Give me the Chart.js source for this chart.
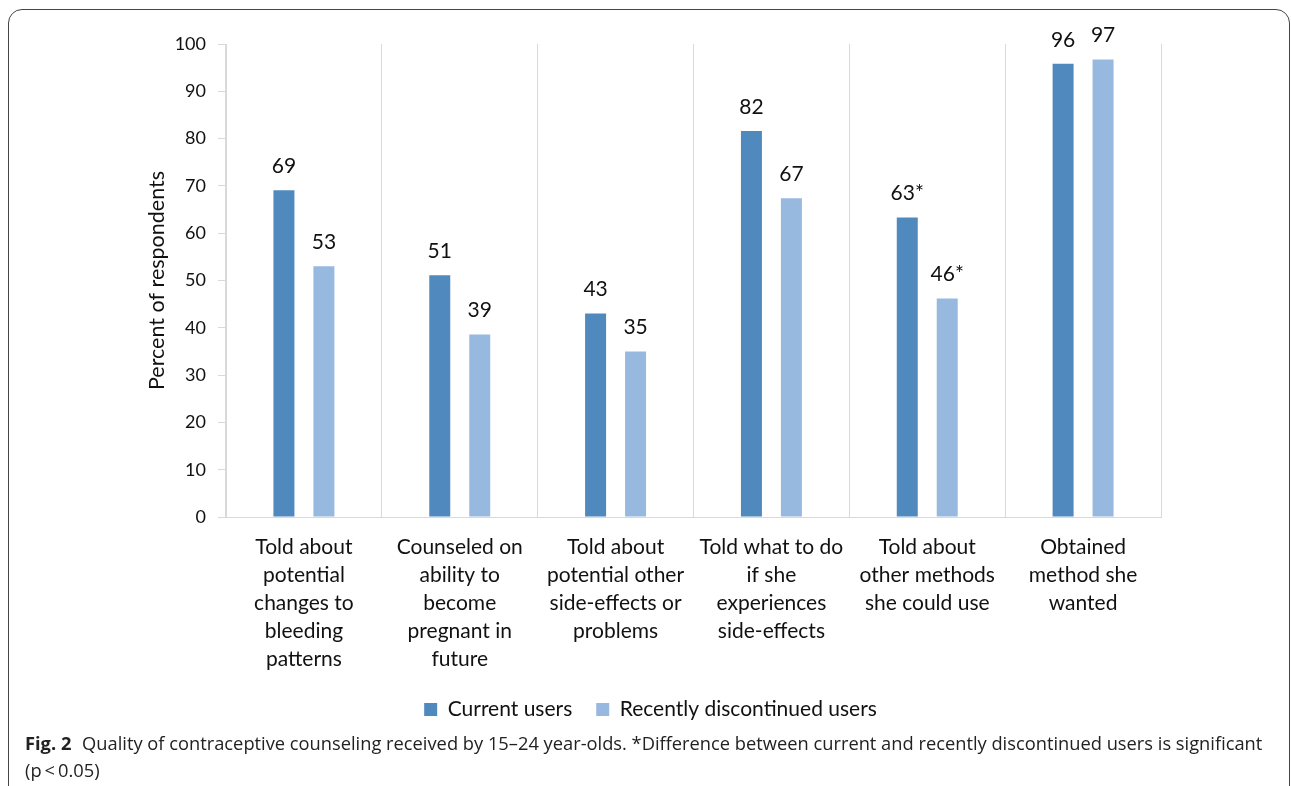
<!DOCTYPE html>
<html>
<head>
<meta charset="utf-8">
<script src="https://cdn.jsdelivr.net/npm/chart.js@4"></script>
<style>
    body { margin: 0; background: #fff; }
    #frame {
        position: absolute; left: 8px; top: 9px; width: 1282px; height: 820px;
        border: 1.5px solid #444; border-radius: 14px; box-sizing: border-box;
    }
    #chart { position: absolute; left: 0; top: 0; }
    #caption {
        position: absolute; left: 25px; top: 729px;
        font-family: "Open Sans", sans-serif; font-size: 18.3px; line-height: 27px;
        color: #222; white-space: nowrap;
    }
    #caption b { font-weight: 700; margin-right: 6px; }
</style>
</head>
<body>
<div id="frame"></div>
<canvas id="chart" width="1291" height="730"></canvas>
<div id="caption"><b>Fig. 2</b> Quality of contraceptive counseling received by 15–24 year-olds. *Difference between current and recently discontinued users is significant<br>(p&thinsp;&lt;&thinsp;0.05)</div>

<script>
// Data
const categories = [
    ['Told about', 'potential', 'changes to', 'bleeding', 'patterns'],
    ['Counseled on', 'ability to', 'become', 'pregnant in', 'future'],
    ['Told about', 'potential other', 'side-effects or', 'problems'],
    ['Told what to do', 'if she', 'experiences', 'side-effects'],
    ['Told about', 'other methods', 'she could use'],
    ['Obtained', 'method she', 'wanted']
];
const currentUsers = [69.1, 51.1, 43, 81.6, 63.3, 95.8];
const discontinuedUsers = [53, 38.6, 35, 67.4, 46.2, 96.7];
const currentLabels = ['69', '51', '43', '82', '63*', '96'];
const discontinuedLabels = ['53', '39', '35', '67', '46*', '97'];

// value labels above bars
const barLabels = {
    id: 'barLabels',
    afterDatasetsDraw(chart) {
        const ctx = chart.ctx;
        ctx.save();
        ctx.font = '21px Lato';
        ctx.fillStyle = '#111';
        ctx.textAlign = 'center';
        ctx.textBaseline = 'middle';
        chart.data.datasets.forEach(function(ds, i) {
            chart.getDatasetMeta(i).data.forEach(function(bar, j) {
                ctx.fillText(ds.valueLabels[j], bar.x, bar.y - 24);
            });
        });
        ctx.restore();
    }
};

const ctx = document.getElementById('chart').getContext('2d');
new Chart(ctx, {
    type: 'bar',
    data: {
        labels: categories,
        datasets: [{
            label: 'Current users',
            data: currentUsers,
            valueLabels: currentLabels,
            backgroundColor: '#4f89bd'
        }, {
            label: 'Recently discontinued users',
            data: discontinuedUsers,
            valueLabels: discontinuedLabels,
            backgroundColor: '#97b9e0'
        }]
    },
    options: {
        responsive: false,
        animation: false,
        devicePixelRatio: 1,
        categoryPercentage: 0.513,
        barPercentage: 0.525,
        layout: { padding: { left: 140, right: 130, top: 44, bottom: 0 } },
        plugins: {
            tooltip: { enabled: false },
            legend: {
                position: 'bottom',
                labels: {
                    boxWidth: 13, boxHeight: 13, padding: 24,
                    color: '#111',
                    font: { family: 'Lato', size: 21 }
                }
            }
        },
        scales: {
            x: {
                afterFit: function(scale) { scale.height = 158; },
                grid: { color: '#d9d9d9', drawTicks: false },
                border: { color: '#d9d9d9' },
                ticks: {
                    padding: 16, color: '#111', maxRotation: 0,
                    font: { family: 'Lato', size: 21, lineHeight: 1.333 }
                }
            },
            y: {
                min: 0, max: 100,
                afterFit: function(scale) { scale.width = 86; },
                grid: { drawOnChartArea: false, color: '#d9d9d9', tickLength: 8 },
                border: { color: '#d9d9d9' },
                ticks: {
                    stepSize: 10, padding: 12, color: '#111',
                    font: { family: 'Lato', size: 18 }
                },
                title: {
                    display: true, text: 'Percent of respondents', color: '#111',
                    font: { family: 'Lato', size: 21.5 }
                }
            }
        }
    },
    plugins: [barLabels]
});
</script>
</body>
</html>
